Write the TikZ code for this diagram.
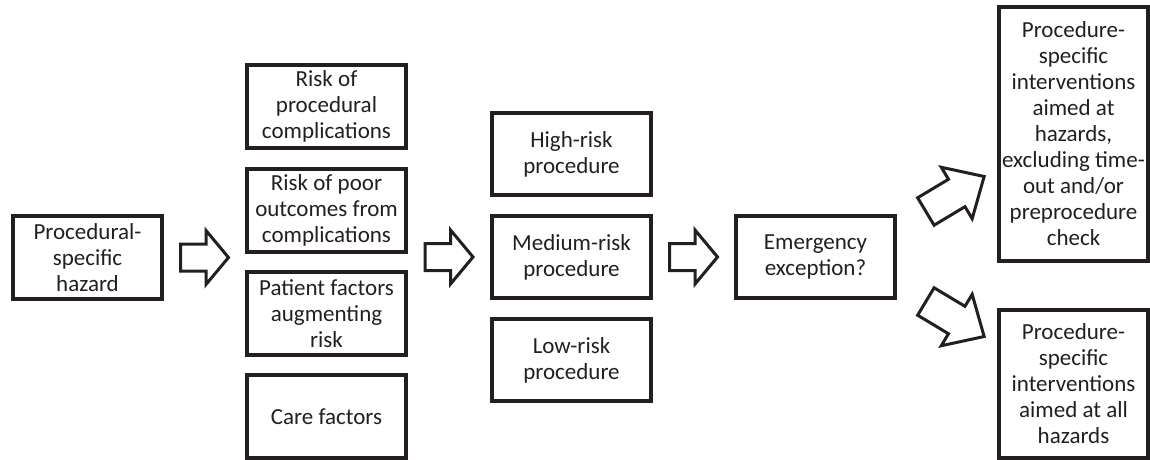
\documentclass[tikz,border=0pt]{standalone}
\usepackage{fontspec}
\setmainfont{Carlito}
\usetikzlibrary{calc}
\definecolor{ink}{HTML}{231F20}
\tikzset{
  box/.style={draw=ink, line width=2pt, rectangle, inner sep=0pt, align=center,
    text=ink, font=\fontsize{11.5}{13}\selectfont},
  arrowline/.style={draw=ink, line width=1.5pt, line join=miter, fill=white},
  harrow/.pic={\path[arrowline] (-24,-13.5) -- (1.5,-13.5) -- (1.5,-27) -- (24,0) -- (1.5,27) -- (1.5,13.5) -- (-24,13.5) -- cycle;},
  darrow/.pic={\path[arrowline] (-34,-16) -- (2,-16) -- (2,-30) -- (34,0) -- (2,30) -- (2,16) -- (-34,16) -- cycle;}
}
\begin{document}
\begin{tikzpicture}[x=0.5pt, y=-0.5pt]
\useasboundingbox (0,0) rectangle (1150,460);
% first box
\node[box, minimum width=74.5pt, minimum height=41.5pt] (A) at (87.5,257.5) {Procedural-\\specific\\hazard};
% column 2
\node[box, minimum width=79.5pt, minimum height=41.5pt] (B1) at (326.5,106.5) {Risk of\\procedural\\complications};
\node[box, minimum width=79.5pt, minimum height=41.5pt] (B2) at (326.5,210) {Risk of poor\\outcomes from\\complications};
\node[box, minimum width=79.5pt, minimum height=41.5pt] (B3) at (326.5,313.5) {Patient factors\\augmenting\\risk};
\node[box, minimum width=79.5pt, minimum height=41.5pt] (B4) at (326.5,416.5) {Care factors};
% column 3
\node[box, minimum width=79.5pt, minimum height=41pt] (C1) at (571.5,154) {High-risk\\procedure};
\node[box, minimum width=79.5pt, minimum height=41pt] (C2) at (571.5,257) {Medium-risk\\procedure};
\node[box, minimum width=79.5pt, minimum height=41pt] (C3) at (571.5,360) {Low-risk\\procedure};
% emergency
\node[box, minimum width=79.5pt, minimum height=41pt] (E) at (815.5,257) {Emergency\\exception?};
% right boxes
\node[box, minimum width=74.5pt, minimum height=126.75pt] (R1) at (1073.5,134) {Procedure-\\specific\\interventions\\aimed at\\hazards,\\excluding time-\\out and/or\\preprocedure\\check};
\node[box, minimum width=74.5pt, minimum height=74pt] (R2) at (1073.5,384) {Procedure-\\specific\\interventions\\aimed at all\\hazards};
% block arrows
\coordinate (m1) at ($(A.east)!0.5!(B2.west |- A.east)$);
\coordinate (m2) at ($(B2.east |- C2.west)!0.5!(C2.west)$);
\coordinate (m3) at ($(C2.east)!0.5!(E.west)$);
\coordinate (m4) at ($(E.east)!0.5!(R1.west |- E.east)$);
\pic at (m1) {harrow};
\pic at (m2) {harrow};
\pic at (m3) {harrow};
\pic[rotate=31] at ($(m4)+(8,-63)$) {darrow};
\pic[rotate=-31] at ($(m4)+(8,62)$) {darrow};
\end{tikzpicture}
\end{document}
